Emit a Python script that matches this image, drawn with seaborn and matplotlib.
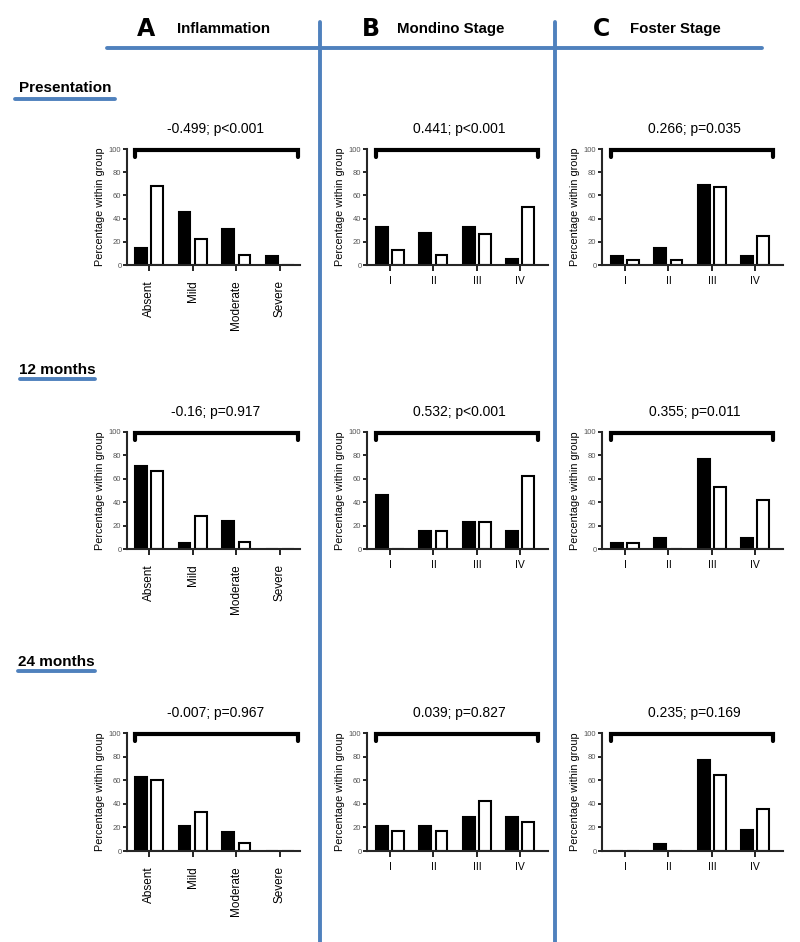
import pandas as pd
import numpy as np
import matplotlib.pyplot as plt
import seaborn as sns

### Data (percentage within group)
groups = ["Group 1", "Group 2"]          # filled / open bars
infl_cats = ["Absent", "Mild", "Moderate", "Severe"]
stage_cats = ["I", "II", "III", "IV"]
row_names = ["Presentation", "12 months", "24 months"]

# Inflammation (A)
infl_pres_g1 = [15, 46, 31, 8]
infl_pres_g2 = [68, 22, 9, 0]
infl_12m_g1 = [71, 5, 24, 0]
infl_12m_g2 = [67, 28, 6, 0]
infl_24m_g1 = [63, 21, 16, 0]
infl_24m_g2 = [60, 33, 7, 0]

# Mondino stage (B)
mond_pres_g1 = [33, 28, 33, 5]
mond_pres_g2 = [13, 9, 27, 50]
mond_12m_g1 = [46, 15, 23, 15]
mond_12m_g2 = [0, 15, 23, 62]
mond_24m_g1 = [21, 21, 29, 29]
mond_24m_g2 = [17, 17, 42, 25]

# Foster stage (C)
fost_pres_g1 = [8, 15, 69, 8]
fost_pres_g2 = [4, 4, 67, 25]
fost_12m_g1 = [5, 9, 77, 9]
fost_12m_g2 = [5, 0, 53, 42]
fost_24m_g1 = [0, 6, 77, 18]
fost_24m_g2 = [0, 0, 64, 36]

# correlation annotations
stats_text = [
    ["-0.499; p<0.001", "0.441; p<0.001", "0.266; p=0.035"],
    ["-0.16; p=0.917", "0.532; p<0.001", "0.355; p=0.011"],
    ["-0.007; p=0.967", "0.039; p=0.827", "0.235; p=0.169"],
]

panel_data = [
    [(infl_pres_g1, infl_pres_g2), (mond_pres_g1, mond_pres_g2), (fost_pres_g1, fost_pres_g2)],
    [(infl_12m_g1, infl_12m_g2), (mond_12m_g1, mond_12m_g2), (fost_12m_g1, fost_12m_g2)],
    [(infl_24m_g1, infl_24m_g2), (mond_24m_g1, mond_24m_g2), (fost_24m_g1, fost_24m_g2)],
]
col_cats = [infl_cats, stage_cats, stage_cats]
col_letters = ["A", "B", "C"]
col_titles = ["Inflammation", "Mondino Stage", "Foster Stage"]

sns.set_style("ticks")
plt.rcParams['font.family'] = ['Liberation Sans', 'DejaVu Sans']
plt.rcParams['text.color'] = 'black'
plt.rcParams['axes.labelcolor'] = 'black'
plt.rcParams['xtick.color'] = 'black'
plt.rcParams['ytick.color'] = 'black'

W, H = 800, 942
fig = plt.figure(figsize=(W / 100, H / 100), dpi=100)
BLUE = "#4f81bd"

# background axes in pixel coordinates for the blue frame lines / headings
bg = fig.add_axes([0, 0, 1, 1])
bg.set_xlim(0, W)
bg.set_ylim(H, 0)
bg.axis("off")
bg.plot([107, 762], [48, 48], color=BLUE, lw=2.8, solid_capstyle="round")
for xv in [320, 555]:
    bg.plot([xv, xv], [22, H], color=BLUE, lw=2.8)

for lx, tx, letter, title in zip([146, 371, 602], [224, 451, 675], col_letters, col_titles):
    bg.text(lx, 29, letter, fontsize=17, fontweight="bold", ha="center", va="center",
            family=['DejaVu Sans'])
    bg.text(tx, 29, title, fontsize=10.8, fontweight="bold", ha="center", va="center")

for name, ty, (x0, x1, uy) in zip(row_names, [88, 370, 662],
                                  [(15, 115, 99), (20, 95, 379), (18, 95, 671)]):
    bg.text((x0 + x1) / 2, ty, name, fontsize=11, fontweight="bold",
            ha="center", va="center")
    bg.plot([x0, x1], [uy, uy], color=BLUE, lw=2.8, solid_capstyle="round")

# axes boxes (pixels)
col_px = [(127, 300, (-0.503, 3.46)), (367, 548, (-0.53, 3.64)), (602, 783, (-0.53, 3.64))]
row_px = [(149, 265), (432, 549), (733, 851)]

for r, (top, bottom) in enumerate(row_px):
    for c, (left, right, xlim) in enumerate(col_px):
        ax = fig.add_axes([left / W, 1 - bottom / H, (right - left) / W, (bottom - top) / H])
        g1, g2 = panel_data[r][c]
        cats = col_cats[c]
        df = pd.DataFrame({
            "category": cats * 2,
            "value": list(g1) + list(g2),
            "group": [groups[0]] * len(cats) + [groups[1]] * len(cats),
        })
        sns.barplot(data=df, x="category", y="value", hue="group", order=cats,
                    hue_order=groups, palette={groups[0]: "black", groups[1]: "white"},
                    edgecolor="black", linewidth=1.5, width=0.75, gap=0.28,
                    legend=False, ax=ax)
        ax.set_xlim(*xlim)
        ax.set_ylim(0, 100)
        ax.set_yticks([0, 20, 40, 60, 80, 100])
        ax.set_xlabel("")
        ax.set_ylabel("Percentage within group", fontsize=7.8, labelpad=3)
        sns.despine(ax=ax)
        for s in ["left", "bottom"]:
            ax.spines[s].set_linewidth(1.5)
        ax.tick_params(axis="y", length=3, width=1.2, labelsize=5.5, labelcolor="#555555", pad=1)
        ax.set_xticks(range(len(cats)))
        if c == 0:
            ax.tick_params(axis="x", length=4, width=1.2, pad=7)
            ax.set_xticklabels(cats, rotation=90, fontsize=8.5, va="top", ha="center")
        else:
            ax.tick_params(axis="x", length=4, width=1.2, pad=4)
            ax.set_xticklabels(cats, fontsize=7.5)
        # bracket + annotation
        bx0, bx1 = -0.33, 3.42
        ax.plot([bx0, bx0, bx1, bx1], [93, 99, 99, 93], color="black", lw=3,
                clip_on=False, solid_joinstyle="miter")
        ax.text((xlim[0] + xlim[1]) / 2 + 0.05, 117, stats_text[r][c], fontsize=10,
                ha="center", va="center")

plt.savefig("out.png", dpi=100)
